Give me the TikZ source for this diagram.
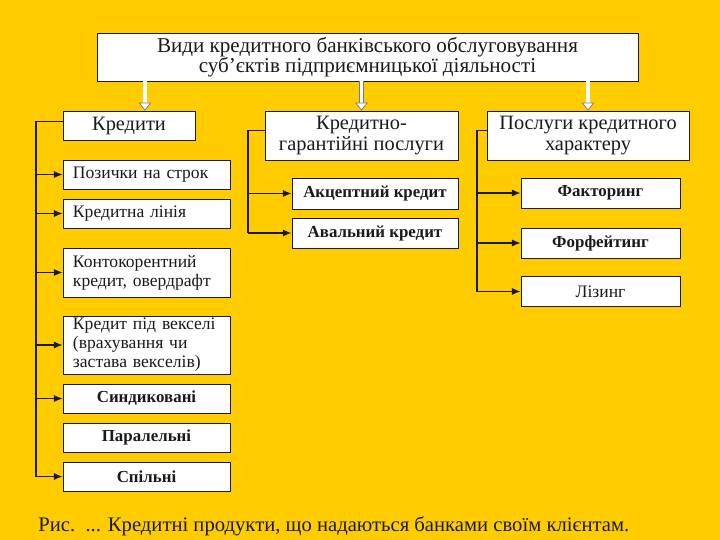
\documentclass[tikz,border=0pt]{standalone}
\usepackage{fontspec}
\setmainfont{Liberation Serif}
\usetikzlibrary{arrows.meta,calc}
\definecolor{gold}{HTML}{FFCC00}
\definecolor{ink}{HTML}{1A1A1A}
\definecolor{rim}{HTML}{7A7A7A}
\tikzset{
  box/.style={draw=ink,fill=white,line width=0.6pt,inner sep=0pt,align=center,text=ink,font=\fontsize{12.5}{13.5}\selectfont},
  headbox/.style={box,minimum height=12.25mm,font=\fontsize{14.5}{14.5}\selectfont},
  leafbox/.style={box,minimum width=41.75mm,minimum height=7.25mm},
  leftbox/.style={leafbox,align=left,inner xsep=2.5mm,text width=36.75mm},
  boldbox/.style={leafbox,font=\fontsize{12}{13}\selectfont\bfseries},
  link/.style={draw=ink,line width=0.8pt},
  arrow/.style={link,-{Latex[length=2.2mm,width=1.8mm]}},
  hollow/.style={draw=rim,line width=0.5pt,double=white,double distance=2.4pt,-{Triangle[open,fill=white,length=2mm,width=3.2mm]}},
}

\begin{document}
\begin{tikzpicture}[x=0.25mm,y=-0.25mm]
    \fill[gold] (0,0) rectangle (720,540);
    \useasboundingbox (0,0) rectangle (720,540);
    % top
    \node[box,minimum width=135.25mm,minimum height=12mm,font=\fontsize{15}{14.5}\selectfont] (title) at (367.5,57)
      {Види кредитного банківського обслуговування\\суб’єктів підприємницької діяльності};
    % headers
    \node[headbox,minimum width=33mm,minimum height=7.25mm] (kred) at (129,125.5) {Кредити};
    \node[headbox,minimum width=48.25mm] (gar) at (361.5,135.5) {Кредитно-\\гарантійні послуги};
    \node[headbox,minimum width=50.5mm] (serv) at (588,135.5) {Послуги кредитного\\характеру};
    % column 1
    \node[leftbox] (p1) at (146.5,174.5) {Позички на строк};
    \node[leftbox] (p2) at (146.5,213.5) {Кредитна лінія};
    \node[leftbox,minimum height=12.25mm] (p3) at (146.5,272.5) {Контокорентний\\кредит, овердрафт};
    \node[leftbox,minimum height=14.5mm] (p4) at (146.5,345) {Кредит під векселі\\(врахування чи\\застава векселів)};
    \node[boldbox] (p5) at (146.5,398.5) {Синдиковані};
    \node[boldbox] (p6) at (146.5,437.5) {Паралельні};
    \node[boldbox] (p7) at (146.5,476.5) {Спільні};
    % column 2
    \node[boldbox,minimum width=41.5mm,minimum height=7.75mm] (a1) at (375,193.5) {Акцептний кредит};
    \node[boldbox,minimum width=41.5mm,minimum height=7.5mm] (a2) at (375,233) {Авальний кредит};
    % column 3
    \node[boldbox,minimum width=39.75mm,minimum height=7.5mm] (f1) at (600.5,193) {Факторинг};
    \node[boldbox,minimum width=39.75mm,minimum height=7.5mm] (f2) at (600.5,243) {Форфейтинг};
    \node[leafbox,minimum width=39.75mm,minimum height=7.5mm] (f3) at (600.5,291.5) {Лізинг};
    % caption
    \node[anchor=base west,inner sep=0pt,text=ink,font=\fontsize{14.7}{16}\selectfont] (cap) at (38,531)
      {Рис.\ \ ... Кредитні продукти, що надаються банками своїм клієнтам.};
    % hollow arrows
    \coordinate (t1) at ($(kred.north west)!0.62!(kred.north east)$);
    \draw[hollow] (title.south -| t1) -- (t1);
    \draw[hollow] (title.south -| gar.north) -- (gar.north);
    \draw[hollow] (title.south -| serv.north) -- (serv.north);
    % spines
    \coordinate (s1) at (36,0);
    \coordinate (s2) at (248,0);
    \coordinate (s3) at (477,0);
    \draw[link] ($(kred.north west)!0.38!(kred.south west)$) -| (s1 |- p7.west);
    \draw[link] ($(gar.north west)!0.4!(gar.south west)$) -| (s2 |- a2.west);
    \draw[link] ($(serv.north west)!0.4!(serv.south west)$) -| (s3 |- f3.west);
    \foreach \n in {p1,p2,p3,p4,p5,p7} \draw[arrow] (s1 |- \n.west) -- (\n.west);
    \foreach \n in {a1,a2} \draw[arrow] (s2 |- \n.west) -- (\n.west);
    \foreach \n in {f1,f2,f3} \draw[arrow] (s3 |- \n.west) -- (\n.west);
\end{tikzpicture}
\end{document}
